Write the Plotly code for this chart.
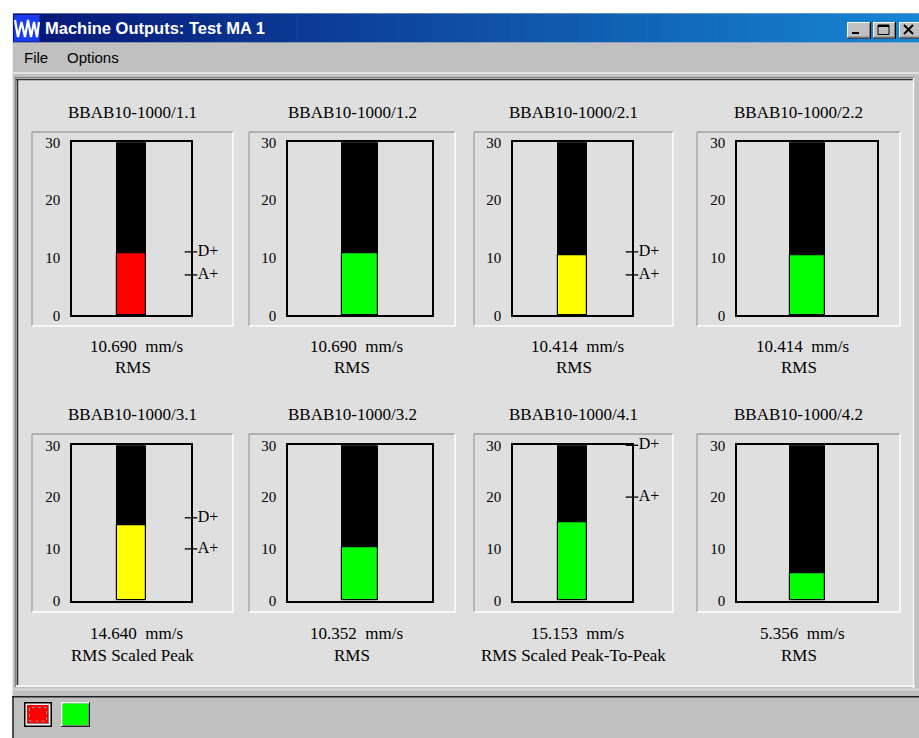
import plotly.graph_objects as go

# ---------------- data ----------------
titles = ["BBAB10-1000/1.1", "BBAB10-1000/1.2", "BBAB10-1000/2.1", "BBAB10-1000/2.2",
          "BBAB10-1000/3.1", "BBAB10-1000/3.2", "BBAB10-1000/4.1", "BBAB10-1000/4.2"]
values = [10.690, 10.690, 10.414, 10.414, 14.640, 10.352, 15.153, 5.356]
measures = ["RMS", "RMS", "RMS", "RMS", "RMS Scaled Peak", "RMS",
            "RMS Scaled Peak-To-Peak", "RMS"]
states = ["danger", "ok", "alert", "ok", "alert", "ok", "ok", "ok"]
danger_lvl = [11, None, 11, None, 16, None, 30, None]
alert_lvl = [7, None, 7, None, 10, None, 20, None]
scale_max = 30
y_ticks = [0, 10, 20, 30]
unit = "mm/s"
window_title = "Machine Outputs: Test MA 1"
menu_items = ["File", "Options"]

# ---------------- layout geometry (pixels) ----------------
W, H = 919, 738
def px(x): return x / W
def py(y): return 1 - y / H

state_color = {"danger": "#ff0000", "alert": "#ffff00", "ok": "#00ff00"}
col_plot = [(72, 191), (288, 432), (513, 632), (737, 877)]
col_box = [(32, 233), (249, 455), (474, 673), (697, 900)]
row_plot = [(142.3, 315.3), (445.3, 600.7)]
row_box = [(132, 326), (434, 612)]
row_title = [112.5, 414]
row_value = [346.5, 633]
row_meas = [367, 655]

PANEL = "#dfdfdf"
GRAY = "#c0c0c0"
serif = "Liberation Serif"
sans = "Liberation Sans"

fig = go.Figure()
shapes = []
annotations = []

def rect(x0, y0, x1, y1, fill=None, line=None, lw=0, layer="below"):
    shapes.append(dict(type="rect", xref="paper", yref="paper",
                       x0=px(x0), x1=px(x1), y0=py(y1), y1=py(y0),
                       fillcolor=fill if fill else "rgba(0,0,0,0)",
                       line=dict(color=line if line else "rgba(0,0,0,0)", width=lw),
                       layer=layer))

def hline(x0, x1, y, color, lw=1, layer="below"):
    shapes.append(dict(type="line", xref="paper", yref="paper",
                       x0=px(x0), x1=px(x1), y0=py(y), y1=py(y),
                       line=dict(color=color, width=lw), layer=layer))

def vline(x, y0, y1, color, lw=1, layer="below"):
    shapes.append(dict(type="line", xref="paper", yref="paper",
                       x0=px(x), x1=px(x), y0=py(y0), y1=py(y1),
                       line=dict(color=color, width=lw), layer=layer))

# window body
rect(12, 13, W + 1, H + 1, fill=GRAY)
vline(12.5, 13, H, "#e8e8e8", 1)

# title bar gradient
n_strips = 80
x_start, x_end = 13, W
c0 = (6, 22, 118)
c1 = (22, 134, 212)
for i in range(n_strips):
    t = i / (n_strips - 1)
    c = tuple(int(round(c0[k] + (c1[k] - c0[k]) * t)) for k in range(3))
    xa = x_start + (x_end - x_start) * i / n_strips
    xb = x_start + (x_end - x_start) * (i + 1) / n_strips + 0.6
    rect(xa, 13.5, xb, 42.3, fill="rgb(%d,%d,%d)" % c)

# icon
rect(14, 15, 39.5, 41.5, fill="#1a3cf0")
shapes.append(dict(type="path", xref="paper", yref="paper",
                   path="M %f %f L %f %f L %f %f L %f %f L %f %f L %f %f L %f %f L %f %f L %f %f" % (
                       px(15), py(20), px(18), py(37), px(21.5), py(22), px(25), py(37),
                       px(28), py(20), px(31), py(37), px(34), py(22), px(37), py(37), px(39), py(22)),
                   line=dict(color="white", width=2.2), layer="below"))

annotations.append(dict(text="<b>%s</b>" % window_title, xref="paper", yref="paper",
                        x=px(43), y=py(28.5), xanchor="left", yanchor="middle", showarrow=False,
                        font=dict(family=sans, size=16.5, color="white")))

# title bar buttons
for (bx0, bx1) in [(847, 871), (873, 896), (899, 921)]:
    rect(bx0, 22, bx1, 38.5, fill=GRAY)
    hline(bx0, bx1, 22.5, "white", 1)
    vline(bx0 + 0.5, 22, 38.5, "white", 1)
    hline(bx0, bx1, 38, "#000000", 1)
    vline(bx1 - 0.5, 22, 38.5, "#000000", 1)
    hline(bx0 + 1, bx1 - 1, 37, "#808080", 1)
    vline(bx1 - 1.5, 23, 37.5, "#808080", 1)
rect(852, 32, 859, 34, fill="black")
rect(878, 25, 889, 34.5, line="black", lw=1)
hline(878, 889, 26, "black", 2)
shapes.append(dict(type="line", xref="paper", yref="paper", x0=px(904), x1=px(913),
                   y0=py(25), y1=py(34), line=dict(color="black", width=2), layer="below"))
shapes.append(dict(type="line", xref="paper", yref="paper", x0=px(904), x1=px(913),
                   y0=py(34), y1=py(25), line=dict(color="black", width=2), layer="below"))

# menu
menu_x = [22, 65]
for mx, txt in zip(menu_x, menu_items):
    annotations.append(dict(text=txt, xref="paper", yref="paper", x=px(mx), y=py(57.5),
                            xanchor="left", yanchor="middle", showarrow=False,
                            font=dict(family=sans, size=15, color="black")))
hline(12, W, 73, "#ececec", 1.5)

# main panel
rect(17, 78, 913, 685, fill=PANEL)
hline(15, 914, 77.5, "#808080", 1.2)
hline(16, 914, 79.5, "#303030", 1.5)
vline(15.5, 77, 687, "#808080", 1.2)
vline(17.5, 79, 686, "#303030", 1.5)
vline(913.5, 78, 688, "#f4f4f4", 1.5)
hline(16, 915, 686, "#f4f4f4", 2)
hline(12, W, 689.5, "#d8d8d8", 2)
hline(12, W, 696.8, "#202020", 1.6)
vline(13, 696, H, "#202020", 1.5)

# status bar buttons
rect(24, 702, 52, 727, fill="black")
rect(25.5, 703.5, 50.5, 725.5, fill="#f0f0f0")
rect(27, 705, 49, 724, fill="#808080")
rect(27, 705, 48, 723, fill="#ff0000")
rect(29.5, 707.5, 46.5, 721, line="#909090", lw=1)
shapes[-1]["line"]["dash"] = "dot"
rect(61, 702, 90, 727, fill="#202020")
rect(61, 702, 89, 726, fill="#ffffff")
rect(62.5, 703.5, 89, 726, fill="#808080")
rect(62.5, 703.5, 88, 725, fill="#00ff00")

# chart frames (sunken boxes)
for r in range(2):
    for c in range(4):
        bx0, bx1 = col_box[c]
        by0, by1 = row_box[r]
        hline(bx0, bx1, by0, "#a0a0a0", 1.3)
        vline(bx0, by0, by1, "#a0a0a0", 1.3)
        hline(bx0, bx1 + 0.5, by1, "#ffffff", 1.5)
        vline(bx1, by0, by1, "#ffffff", 1.5)

# ---------------- charts ----------------
layout_axes = {}
for i in range(8):
    r, c = divmod(i, 4)
    n = i + 1
    xs = "" if n == 1 else str(n)
    x0, x1 = col_plot[c]
    y0, y1 = row_plot[r]
    layout_axes["xaxis" + xs] = dict(domain=[px(x0), px(x1)], range=[0, 1], anchor="y" + xs,
                                     showticklabels=False, showgrid=False, zeroline=False,
                                     showline=True, mirror=True, linecolor="black", linewidth=1.6,
                                     ticks="", fixedrange=True, automargin=False)
    layout_axes["yaxis" + xs] = dict(domain=[py(y1), py(y0)], range=[0, scale_max], anchor="x" + xs,
                                     tickvals=y_ticks, ticks="", showgrid=False, zeroline=False,
                                     showline=True, mirror=True, linecolor="black", linewidth=1.6,
                                     tickfont=dict(family=serif, size=15, color="black"),
                                     ticklabelstandoff=7, fixedrange=True, automargin=False)
    v = values[i]
    # remaining part of scale (black)
    fig.add_trace(go.Bar(x=[0.5], y=[scale_max - v], base=[v], width=0.25,
                         marker=dict(color="black", line=dict(color="black", width=1)),
                         xaxis="x" + xs, yaxis="y" + xs, showlegend=False, hoverinfo="skip"))
    # measured value
    fig.add_trace(go.Bar(x=[0.5], y=[v], base=[0], width=0.25,
                         marker=dict(color=state_color[states[i]], line=dict(color="black", width=1.2)),
                         xaxis="x" + xs, yaxis="y" + xs, showlegend=False,
                         hovertemplate="%{y:.3f} " + unit + "<extra></extra>"))
    # alarm levels
    lv, lt = [], []
    if danger_lvl[i] is not None:
        lv.append(danger_lvl[i]); lt.append("D+")
    if alert_lvl[i] is not None:
        lv.append(alert_lvl[i]); lt.append("A+")
    if lv:
        fig.add_trace(go.Scatter(x=[1] * len(lv), y=lv, text=lt, mode="markers+text",
                                 textposition="middle right",
                                 textfont=dict(family=serif, size=16, color="black"),
                                 marker=dict(symbol="line-ew", size=9,
                                             line=dict(color="black", width=1.3)),
                                 cliponaxis=False, xaxis="x" + xs, yaxis="y" + xs,
                                 showlegend=False, hoverinfo="skip"))
    bx0, bx1 = col_box[c]
    bc = (bx0 + bx1) / 2
    annotations.append(dict(text=titles[i], xref="paper", yref="paper", x=px(bc),
                            y=py(row_title[r]), xanchor="center", yanchor="middle",
                            showarrow=False, font=dict(family=serif, size=17, color="black")))
    annotations.append(dict(text="%.3f\u00a0\u00a0%s" % (v, unit), xref="paper", yref="paper",
                            x=px(bc + 4), y=py(row_value[r]), xanchor="center", yanchor="middle",
                            showarrow=False, font=dict(family=serif, size=17, color="black")))
    annotations.append(dict(text=measures[i], xref="paper", yref="paper", x=px(bc),
                            y=py(row_meas[r]), xanchor="center", yanchor="middle",
                            showarrow=False, font=dict(family=serif, size=17, color="black")))

fig.update_layout(**layout_axes)
fig.update_layout(width=W, height=H,
                  margin=dict(l=0, r=0, t=0, b=0, pad=0, autoexpand=False),
                  paper_bgcolor="white", plot_bgcolor="rgba(0,0,0,0)",
                  barmode="overlay", bargap=0, showlegend=False,
                  shapes=shapes, annotations=annotations)
fig.write_html("out.html", config={"displayModeBar": False},
               post_script="document.body.style.margin='0';document.body.style.overflow='hidden';")
